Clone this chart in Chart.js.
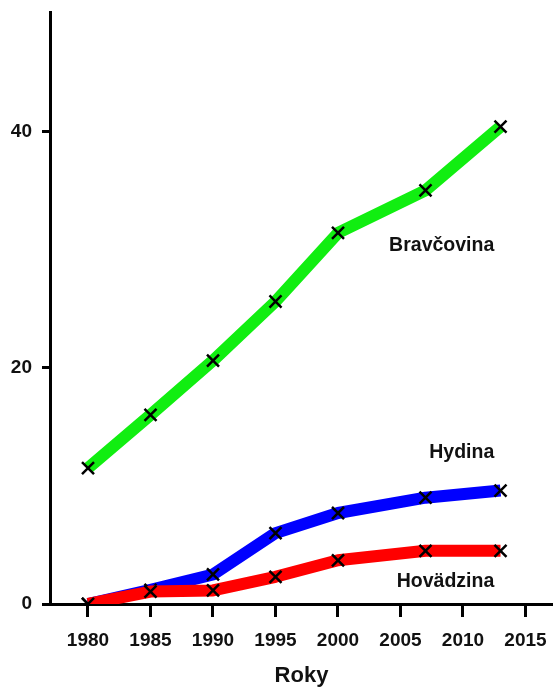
<!DOCTYPE html>
<html>
<head>
<meta charset="utf-8">
<script src="https://cdn.jsdelivr.net/npm/chart.js@4/dist/chart.umd.min.js"></script>
<style>
  html, body { margin: 0; padding: 0; background: #fff; }
  #wrap { width: 553px; height: 689px; }
</style>
</head>
<body>
<div id="wrap"><canvas id="meat"></canvas></div>
<script>
const years = [1980, 1985, 1990, 1995, 2000, 2007, 2013];
const bravcovina = [11.5, 16.0, 20.6, 25.6, 31.4, 35.0, 40.4];
const hydina = [0, 1.2, 2.5, 6.0, 7.7, 9.0, 9.6];
const hovadzina = [0, 1.05, 1.15, 2.3, 3.7, 4.5, 4.5];
const xTicks = [1980, 1985, 1990, 1995, 2000, 2005, 2010, 2015];
const yTicks = [0, 20, 40];

// series names, placed next to their lines (x, y in data units)
const seriesNames = ["Bravčovina", "Hydina", "Hovädzina"];
const nameAnchors = [[2012.5, 30.3], [2012.5, 12.8], [2012.5, 1.9]];

const FONT = 'Arial, "Liberation Sans", sans-serif';

function pts(vals) {
  return years.map((y, i) => ({ x: y, y: vals[i] }));
}

function lineSet(label, vals, color) {
  return {
    label,
    data: pts(vals),
    borderColor: color,
    backgroundColor: color,
    borderWidth: 12,
    borderJoinStyle: "round",
    pointStyle: "crossRot",
    pointRadius: 8.5,
    pointBorderWidth: 2.5,
    pointBorderColor: "#000",
    tension: 0,
  };
}

const seriesLabels = {
  id: "seriesLabels",
  afterDatasetsDraw(chart) {
    const { ctx, scales } = chart;
    ctx.save();
    ctx.font = "bold 19.5px " + FONT;
    ctx.fillStyle = "#111";
    ctx.textAlign = "right";
    ctx.textBaseline = "middle";
    seriesNames.forEach((name, i) => {
      const [xv, yv] = nameAnchors[i];
      ctx.fillText(name, scales.x.getPixelForValue(xv), scales.y.getPixelForValue(yv));
    });
    ctx.restore();
  },
};

new Chart(document.getElementById("meat"), {
  type: "line",
  data: {
    datasets: [
      lineSet("Hovädzina", hovadzina, "#ff0000"),
      lineSet("Hydina", hydina, "#0000ff"),
      lineSet("Bravčovina", bravcovina, "#11ee11"),
    ],
  },
  options: {
    responsive: true,
    maintainAspectRatio: false,
    animation: false,
    layout: { autoPadding: false, padding: { top: 12, right: 0, left: 0, bottom: 0 } },
    plugins: { legend: { display: false }, tooltip: { enabled: false } },
    scales: {
      x: {
        type: "linear",
        min: 1976.96,
        max: 2017.2,
        afterFit: (s) => { s.height = 85; s.paddingLeft = 0; s.paddingRight = 0; },
        afterBuildTicks: (s) => { s.ticks = xTicks.map((v) => ({ value: v })); },
        border: { display: true, color: "#000", width: 3 },
        grid: { drawOnChartArea: false, drawTicks: true, tickLength: 13, color: "#000", lineWidth: 3 },
        ticks: {
          color: "#111",
          padding: 12,
          maxRotation: 0,
          autoSkip: false,
          font: { family: FONT, size: 19, weight: "bold" },
          callback: (v) => String(v),
        },
        title: {
          display: true,
          text: "Roky",
          color: "#111",
          padding: { top: 0, bottom: 0 },
          font: { family: FONT, size: 22, weight: "bold" },
        },
      },
      y: {
        min: 0,
        max: 50.1,
        afterFit: (s) => { s.width = 50; s.paddingTop = 0; s.paddingBottom = 0; },
        afterBuildTicks: (s) => { s.ticks = yTicks.map((v) => ({ value: v })); },
        border: { display: true, color: "#000", width: 3 },
        grid: { drawOnChartArea: false, drawTicks: true, tickLength: 8, color: "#000", lineWidth: 3 },
        ticks: {
          color: "#111",
          padding: 10,
          font: { family: FONT, size: 19, weight: "bold" },
        },
      },
    },
  },
  plugins: [seriesLabels],
});
</script>
</body>
</html>
